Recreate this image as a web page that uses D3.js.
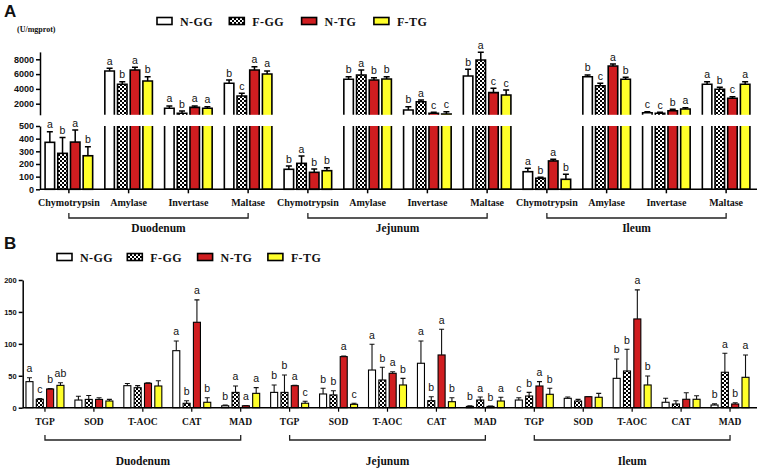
<!DOCTYPE html>
<html>
<head>
<meta charset="utf-8">
<script src="https://cdnjs.cloudflare.com/ajax/libs/d3/7.8.5/d3.min.js"></script>
<style>
  body { margin: 0; background: #fff; }
  svg { display: block; }
</style>
</head>
<body>
<script>

// ---- shared ----
var series = ['N-GG', 'F-GG', 'N-TG', 'F-TG'];
var sites = ['Duodenum', 'Jejunum', 'Ileum'];

// ---- panel A: digestive enzymes (U/mgprot) ----
var enzymes = ['Chymotrypsin', 'Amylase', 'Invertase', 'Maltase'];
// order: Duodenum x4, Jejunum x4, Ileum x4
var a_ngg     = [371, 6420, 1380, 4760, 158, 5300, 1150, 5740, 139, 5650, 780, 4620];
var a_ngg_sd  = [84, 360, 310, 440, 26, 350, 450, 910, 27, 230, 140, 350];
var a_fgg     = [284, 4620, 700, 3040, 205, 5880, 2270, 7900, 87, 4430, 700, 3950];
var a_fgg_sd  = [126, 350, 310, 360, 58, 670, 230, 1050, 8, 330, 140, 270];
var a_ntg     = [373, 6550, 1510, 6550, 134, 5200, 700, 3490, 224, 7090, 1050, 2730];
var a_ntg_sd  = [95, 360, 180, 450, 26, 310, 140, 590, 13, 270, 190, 220];
var a_ftg     = [265, 5070, 1380, 6010, 147, 5340, 610, 3180, 79, 5300, 1280, 4620];
var a_ftg_sd  = [71, 580, 220, 410, 24, 310, 310, 670, 39, 270, 180, 350];
var a_letters = ['abab', 'abab', 'abaa', 'bcaa', 'babb', 'babb', 'bacc', 'bacc', 'abab', 'bcab', 'ccba', 'abca'];
var a_ticks_up = [2000, 4000, 6000, 8000];
var a_ticks_lo = [0, 100, 200, 300, 400, 500];

// ---- panel B: antioxidant indices ----
var indices = ['TGP', 'SOD', 'T-AOC', 'CAT', 'MAD'];
var b_ngg     = [40.8, 12, 34.5, 89.3, 3,   24, 21.5, 59, 69.6, 2,     12, 14.7, 46, 8.5, 4.2];
var b_ngg_sd  = [6.2, 6, 3.5, 15.2, 1,      11.6, 8.9, 40.3, 34.9, 1,  3.7, 2, 30.3, 6.2, 1.8];
var b_fgg     = [13.2, 13, 31.3, 6.9, 24,   24, 20, 43.4, 11, 12,      18.3, 10.5, 57.5, 5.8, 55.5];
var b_fgg_sd  = [1, 6, 3.2, 4.1, 10,        27.3, 6.6, 19.9, 6.2, 4.7, 5.7, 2.5, 34, 5.2, 29.8];
var b_ntg     = [29.3, 13, 38.2, 133.8, 3,  34.5, 80, 53.9, 82.6, 2,   34, 17.2, 139, 13.2, 5.8];
var b_ntg_sd  = [0.5, 2.7, 0.8, 35, 0.5,    0.5, 1, 2.5, 40.3, 0.5,    6.8, 0.3, 45.5, 10.3, 2];
var b_ftg     = [35, 10.5, 34, 8.5, 22.5,   7, 5.3, 35.6, 9.4, 10.5,   21, 16.3, 35.6, 13.2, 47.6];
var b_ftg_sd  = [4, 2.5, 8.3, 7.2, 8.9,     3, 1.7, 10.4, 6.3, 5.8,    9.4, 6.2, 14.1, 5.6, 35];
var b_letters = [['a','c','b','ab'], null, null, ['a','b','a','b'], ['b','a','a','a'],
                 ['b','b','a','c'], ['b','b','a','c'], ['a','b','a','b'], ['a','b','a','b'], ['b','a','b','a'],
                 ['c','b','a','b'], null, ['b','b','a','b'], null, ['b','a','b','a']];
var b_ticks = [0, 50, 100, 150, 200];

var fills = ['#ffffff', 'url(#checker)', '#d01d20', '#ffff2a'];
var SERIF = '"Liberation Serif", "DejaVu Serif", "Times New Roman", serif';
var SANS = '"Liberation Sans", Arial, sans-serif';

var svg = d3.select('body').append('svg')
    .attr('width', 758)
    .attr('height', 469);

// checker pattern for F-GG
var pat = svg.append('defs').append('pattern')
    .attr('id', 'checker')
    .attr('width', 4).attr('height', 4)
    .attr('patternUnits', 'userSpaceOnUse');
pat.append('rect').attr('width', 4).attr('height', 4).attr('fill', '#fff');
pat.append('rect').attr('width', 2).attr('height', 2).attr('fill', '#000');
pat.append('rect').attr('x', 2).attr('y', 2).attr('width', 2).attr('height', 2).attr('fill', '#000');

function serifText(sel, size) {
  return sel.style('font-family', SERIF).style('font-weight', 'bold')
            .style('font-size', size).attr('fill', '#111');
}
function sansText(sel, size) {
  return sel.style('font-family', SANS).style('font-size', size).attr('fill', '#111');
}

function buildRows(cats, sets, letters) {
  var rows = [];
  cats.forEach(function(c, i) {
    series.forEach(function(s, j) {
      var l = letters[i];
      rows.push({cat: c, s: s, j: j, v: sets[j][0][i], sd: sets[j][1][i],
                 letter: l ? l[j] : null});
    });
  });
  return rows;
}

function drawLegend(x0, step, y) {
  var g = svg.append('g');
  series.forEach(function(s, j) {
    g.append('rect')
      .attr('x', x0 + j * step).attr('y', y - 3.5)
      .attr('width', 15).attr('height', 7)
      .attr('fill', fills[j])
      .attr('stroke', '#000').attr('stroke-width', 1.6);
    g.append('text')
      .attr('x', x0 + j * step + 23).attr('y', y + 4.5)
      .attr('letter-spacing', '0.4px')
      .call(serifText, '12px')
      .text(s);
  });
}

function drawBrackets(xs, groups, per, yb, ylab) {
  groups.forEach(function(site, k) {
    var xa = xs(site + '|' + per[0]) + xs.bandwidth() / 2;
    var xb = xs(site + '|' + per[per.length - 1]) + xs.bandwidth() / 2;
    svg.append('path')
      .attr('d', 'M' + xa + ',' + (yb - 5) + 'V' + yb + 'H' + xb + 'V' + (yb - 5))
      .attr('fill', 'none').attr('stroke', '#222').attr('stroke-width', 1.3);
    svg.append('text')
      .attr('x', (xa + xb) / 2).attr('y', ylab)
      .attr('text-anchor', 'middle')
      .call(serifText, '11.5px')
      .text(site);
  });
}

function styleAxis(g, fs) {
  g.selectAll('path, line').attr('stroke', '#000').attr('stroke-width', 1.5);
  g.selectAll('text')
    .style('font-family', SANS)
    .style('font-weight', 'bold')
    .style('font-size', fs)
    .attr('fill', '#111');
}

// ================= Panel A =================
var catsA = [];
sites.forEach(function(s) { enzymes.forEach(function(e) { catsA.push(s + '|' + e); }); });

var rowsA = buildRows(catsA, [[a_ngg, a_ngg_sd], [a_fgg, a_fgg_sd], [a_ntg, a_ntg_sd], [a_ftg, a_ftg_sd]], a_letters);

var xA = d3.scaleBand().domain(catsA).range([39, 756]);
var xA1 = d3.scaleBand().domain(series).range([0, xA.bandwidth()])
    .paddingInner(0.25).paddingOuter(0.48);

var breakV = 500;
var yUp = d3.scaleLinear().domain([breakV, 9000]).range([114.8, 51.9]);
var yLo = d3.scaleLinear().domain([0, breakV]).range([189.3, 126]);
function yA(v) { return v > breakV ? yUp(v) : yLo(v); }

svg.append('text')
  .attr('x', 4).attr('y', 17)
  .call(sansText, '17px').style('font-weight', 'bold')
  .text('A');

svg.append('text')
  .attr('x', 17).attr('y', 32)
  .call(serifText, '8px')
  .text('(U/mgprot)');

drawLegend(157, 72.3, 21);

var barsA = svg.append('g');
rowsA.forEach(function(d) {
  var x = xA(d.cat) + xA1(d.s);
  var w = xA1.bandwidth();
  var fill = fills[d.j];
  if (d.v <= breakV) {
    barsA.append('rect')
      .attr('x', x).attr('y', yLo(d.v))
      .attr('width', w).attr('height', yLo(0) - yLo(d.v))
      .attr('fill', fill).attr('stroke', '#000').attr('stroke-width', 1.6);
  } else {
    // lower piece, open at the top
    barsA.append('rect')
      .attr('x', x).attr('y', yLo(breakV))
      .attr('width', w).attr('height', yLo(0) - yLo(breakV))
      .attr('fill', fill);
    barsA.append('path')
      .attr('d', 'M' + x + ',' + yLo(breakV) + 'V' + yLo(0) + 'H' + (x + w) + 'V' + yLo(breakV))
      .attr('fill', 'none').attr('stroke', '#000').attr('stroke-width', 1.6);
    // upper piece, open at the bottom
    barsA.append('rect')
      .attr('x', x).attr('y', yUp(d.v))
      .attr('width', w).attr('height', yUp(breakV) - yUp(d.v))
      .attr('fill', fill);
    barsA.append('path')
      .attr('d', 'M' + x + ',' + yUp(breakV) + 'V' + yUp(d.v) + 'H' + (x + w) + 'V' + yUp(breakV))
      .attr('fill', 'none').attr('stroke', '#000').attr('stroke-width', 1.6);
  }
  // error bar (upper only)
  var cx = x + w / 2;
  var yt = yA(d.v + d.sd);
  barsA.append('path')
    .attr('d', 'M' + cx + ',' + yA(d.v) + 'V' + yt + 'M' + (cx - 3) + ',' + yt + 'H' + (cx + 3))
    .attr('stroke', '#000').attr('stroke-width', 1.5).attr('fill', 'none');
  if (d.letter) {
    barsA.append('text')
      .attr('x', cx).attr('y', yt - 3.5)
      .attr('text-anchor', 'middle')
      .call(sansText, '10.5px')
      .text(d.letter);
  }
});

// y axes (broken)
svg.append('g')
  .attr('transform', 'translate(40,0)')
  .call(d3.axisLeft(yUp).tickValues(a_ticks_up).tickFormat(d3.format('d'))
          .tickSize(4).tickSizeOuter(0).tickPadding(2))
  .call(styleAxis, '9px');
svg.append('g')
  .attr('transform', 'translate(40,0)')
  .call(d3.axisLeft(yLo).tickValues(a_ticks_lo).tickFormat(d3.format('d'))
          .tickSize(4).tickSizeOuter(0).tickPadding(2))
  .call(styleAxis, '9px');

// x baseline + ticks + labels
svg.append('line')
  .attr('x1', 40).attr('x2', 757)
  .attr('y1', yLo(0)).attr('y2', yLo(0))
  .attr('stroke', '#000').attr('stroke-width', 1.5);
svg.append('g').selectAll('line')
  .data(catsA).enter().append('line')
    .attr('x1', d => xA(d) + xA.bandwidth() / 2)
    .attr('x2', d => xA(d) + xA.bandwidth() / 2)
    .attr('y1', yLo(0)).attr('y2', yLo(0) + 4)
    .attr('stroke', '#000').attr('stroke-width', 1.5);
svg.append('g').selectAll('text')
  .data(catsA).enter().append('text')
    .attr('x', d => xA(d) + xA.bandwidth() / 2)
    .attr('y', 206)
    .attr('text-anchor', 'middle')
    .call(serifText, '10px')
    .text(d => d.split('|')[1]);

drawBrackets(xA, sites, enzymes, 218, 232);

// ================= Panel B =================
var catsB = [];
sites.forEach(function(s) { indices.forEach(function(e) { catsB.push(s + '|' + e); }); });

var rowsB = buildRows(catsB, [[b_ngg, b_ngg_sd], [b_fgg, b_fgg_sd], [b_ntg, b_ntg_sd], [b_ftg, b_ftg_sd]], b_letters);

var xB = d3.scaleBand().domain(catsB).range([20.5, 754.5]);
var xB1 = d3.scaleBand().domain(series).range([0, xB.bandwidth()])
    .paddingInner(0.32).paddingOuter(0.53);
var yB = d3.scaleLinear().domain([0, 200]).range([407.7, 280]);

svg.append('text')
  .attr('x', 4).attr('y', 249)
  .call(sansText, '17px').style('font-weight', 'bold')
  .text('B');

drawLegend(57, 70.3, 257);

var barsB = svg.append('g');
barsB.selectAll('rect')
  .data(rowsB).enter().append('rect')
    .attr('x', d => xB(d.cat) + xB1(d.s))
    .attr('y', d => yB(d.v))
    .attr('width', xB1.bandwidth())
    .attr('height', d => yB(0) - yB(d.v))
    .attr('fill', d => fills[d.j])
    .attr('stroke', '#000').attr('stroke-width', 1.1);

barsB.selectAll('path.err')
  .data(rowsB).enter().append('path')
    .attr('class', 'err')
    .attr('d', function(d) {
      var cx = xB(d.cat) + xB1(d.s) + xB1.bandwidth() / 2;
      var yt = yB(d.v + d.sd);
      return 'M' + cx + ',' + yB(d.v) + 'V' + yt + 'M' + (cx - 2.5) + ',' + yt + 'H' + (cx + 2.5);
    })
    .attr('stroke', '#111').attr('stroke-width', 1.1).attr('fill', 'none');

barsB.selectAll('text')
  .data(rowsB.filter(d => d.letter)).enter().append('text')
    .attr('x', d => xB(d.cat) + xB1(d.s) + xB1.bandwidth() / 2)
    .attr('y', d => yB(d.v + d.sd) - 5.5)
    .attr('text-anchor', 'middle')
    .call(sansText, '10.5px')
    .text(d => d.letter);

svg.append('g')
  .attr('transform', 'translate(22.7,0)')
  .call(d3.axisLeft(yB).tickValues(b_ticks).tickSize(4).tickSizeOuter(0).tickPadding(2))
  .call(styleAxis, '7.5px');

svg.append('line')
  .attr('x1', 22.7).attr('x2', 757)
  .attr('y1', yB(0)).attr('y2', yB(0))
  .attr('stroke', '#000').attr('stroke-width', 1.5);
svg.append('g').selectAll('line')
  .data(catsB).enter().append('line')
    .attr('x1', d => xB(d) + xB.bandwidth() / 2)
    .attr('x2', d => xB(d) + xB.bandwidth() / 2)
    .attr('y1', yB(0)).attr('y2', yB(0) + 4)
    .attr('stroke', '#000').attr('stroke-width', 1.2);
svg.append('g').selectAll('text')
  .data(catsB).enter().append('text')
    .attr('x', d => xB(d) + xB.bandwidth() / 2)
    .attr('y', 424.5)
    .attr('text-anchor', 'middle')
    .call(serifText, '9.5px')
    .text(d => d.split('|')[1]);

drawBrackets(xB, sites, indices, 440, 465);

</script>
</body>
</html>
